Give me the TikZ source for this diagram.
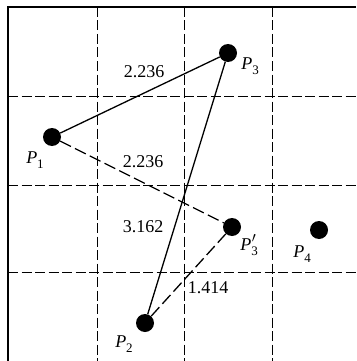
\documentclass[tikz,border=0pt]{standalone}
\usepackage{fontspec}
\setmainfont{Liberation Serif}
\newcommand{\plab}[1]{\textit{P}\raisebox{-0.55ex}{\fontsize{13}{13}\selectfont #1}}
\newcommand{\plabp}[1]{\textit{P}\rlap{\hspace{0.5pt}\raisebox{0.2ex}{\fontsize{19}{19}\selectfont$^{\prime}$}}\raisebox{-0.55ex}{\fontsize{13}{13}\selectfont #1}}
\begin{document}
\begin{tikzpicture}[x=1pt,y=-1pt,
  gridline/.style={line width=0.9pt,dash pattern=on 10pt off 3.5pt},
  frameline/.style={line width=1.4pt},
  solidcon/.style={line width=1.3pt},
  dashcon/.style={line width=1.3pt,dash pattern=on 12pt off 4.5pt},
  dot/.style={circle,fill=black,inner sep=0pt,minimum size=18pt},
  lbl/.style={font=\fontsize{18}{18}\selectfont,inner sep=0pt}]
\useasboundingbox (0,0) rectangle (356,361);
% grid
\foreach \x in {97,184,272} \draw[gridline] (\x,7) -- (\x,361);
\foreach \y in {96,185,272} \draw[gridline] (8,\y) -- (356,\y);
% frame
\draw[frameline] (8,361) -- (8,7) -- (356,7);
% points
\node[dot] (p1) at (52,137) {};
\node[dot] (p2) at (145,323) {};
\node[dot] (p3) at (228,53) {};
\node[dot] (p3p) at (232,227) {};
\node[dot] (p4) at (319,230) {};
% connectors
\draw[solidcon] (p1) -- (p3);
\draw[solidcon] (p3) -- (p2);
\draw[dashcon] (p1) -- (p3p);
\draw[dashcon] (p3p) -- (p2);
% point labels
\node[lbl] (l1) at (35,160) {\plab{1}};
\node[lbl] (l2) at (124,344) {\plab{2}};
\node[lbl] (l3) at (250,66) {\plab{3}};
\node[lbl] (l3p) at (249,245) {\plabp{3}};
\node[lbl] (l4) at (302,254) {\plab{4}};
% distance labels
\node[lbl] (d1) at (144,72) {2.236};
\node[lbl] (d2) at (143,162) {2.236};
\node[lbl] (d3) at (143,227) {3.162};
\node[lbl] (d4) at (208,288) {1.414};
\end{tikzpicture}
\end{document}
